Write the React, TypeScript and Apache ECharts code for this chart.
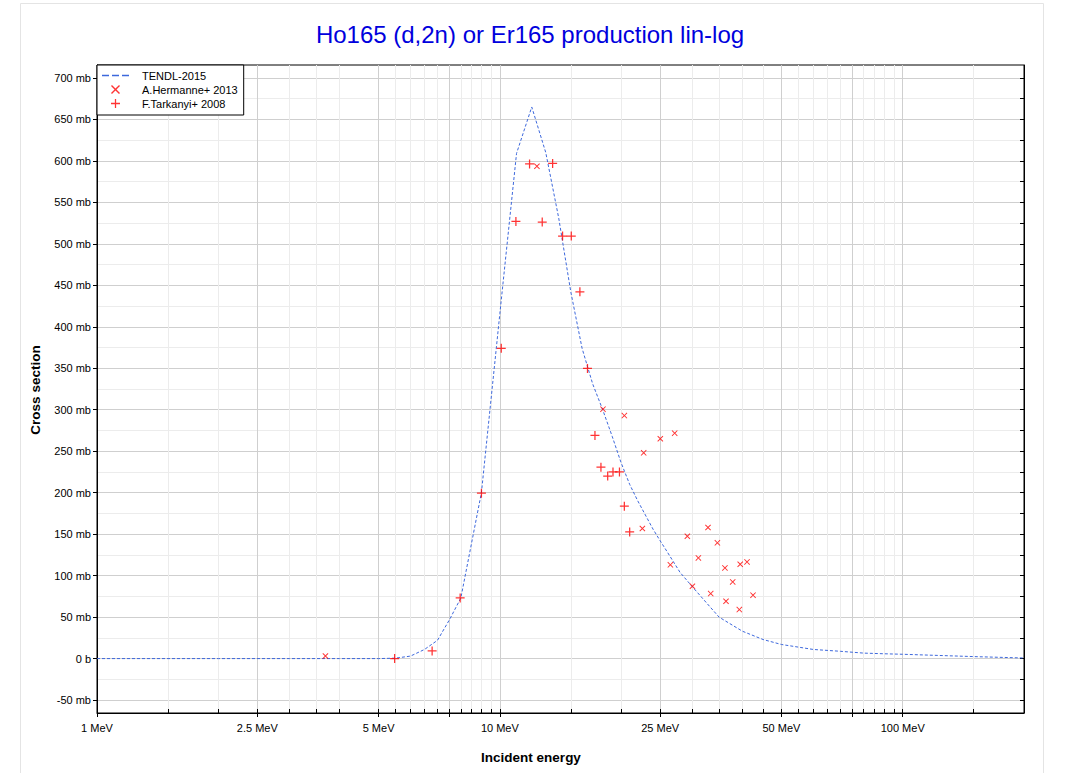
import React, { useEffect, useRef } from 'react';
import * as echarts from 'echarts';

const TITLE = 'Ho165 (d,2n) or Er165 production lin-log';
const X_NAME = 'Incident energy';
const Y_NAME = 'Cross section';
const LEGEND_NAMES = ['TENDL-2015', 'A.Hermanne+ 2013', 'F.Tarkanyi+ 2008'];

// TENDL-2015 evaluation (MeV, mb)
const TENDL_E = [1, 2, 3, 4, 5, 5.5, 6, 6.5, 7, 7.5, 8, 9, 10, 11, 12, 13, 14, 15, 16, 17, 18, 19, 20, 21, 22, 24, 25, 26, 28, 30, 35, 40, 45, 50, 60, 70, 80, 90, 100, 150, 200];
const TENDL_MB = [0, 0, 0, 0, 0, 0.5, 3, 11, 22, 47, 73, 200, 416, 609, 665, 610, 531, 442, 374, 331, 300, 268, 236, 210, 190, 156, 142, 129, 104, 87, 50, 33, 23, 17, 11, 8.8, 6.6, 5.8, 5.2, 2.4, 0.7];

// A.Hermanne+ 2013 (MeV, mb)
const HERM_E = [3.69, 12.36, 18.03, 20.37, 22.58, 22.75, 25.02, 26.5, 27.16, 29.2, 30.06, 31.1, 32.86, 33.37, 34.67, 36.2, 36.42, 37.84, 39.3, 39.5, 41.07, 42.5];
const HERM_MB = [3.1, 593.5, 300.7, 293, 156.8, 248, 265, 113, 271.8, 147.5, 87.2, 121.4, 158, 78.4, 139.5, 109.3, 69.1, 92.4, 59.1, 113.7, 116.5, 76.4];

// F.Tarkanyi+ 2008 (MeV, mb)
const TARK_E = [5.48, 6.79, 7.97, 9.0, 10.08, 10.96, 11.85, 12.74, 13.52, 14.31, 15.04, 15.8, 16.5, 17.22, 17.82, 18.52, 19.09, 19.81, 20.37, 21.0];
const TARK_MB = [0, 9.2, 73.1, 199.4, 374, 527, 596.3, 526.3, 597, 509.4, 509.4, 442.2, 349.8, 269, 230.8, 220, 225, 225, 183.7, 152.7];

// Axis ticks
const X_MIN = 1;
const X_MAX = 200;
const X_LABELS = [1, 2.5, 5, 10, 25, 50, 100];
const X_MAJOR = [1, 2.5, 5, 7.5, 10, 25, 50, 75, 100];
const X_TICKS = [1, 1.5, 2, 2.5, 3, 3.5, 4, 5, 5.5, 6, 6.5, 7, 7.5, 8, 8.5, 9, 9.5, 10, 15, 20, 25, 30, 35, 40, 45, 50, 55, 60, 65, 70, 75, 80, 85, 90, 95, 100, 150];
const Y_MIN = -65.6;
const Y_MAX = 715.6;
const Y_LABELS = [-50, 0, 50, 100, 150, 200, 250, 300, 350, 400, 450, 500, 550, 600, 650, 700];
const Y_TICKS = [-50, -25, 0, 25, 50, 75, 100, 125, 150, 175, 200, 225, 250, 275, 300, 325, 350, 375, 400, 425, 450, 475, 500, 525, 550, 575, 600, 625, 650, 675, 700];

const FONT = '"Liberation Sans", Arial, Helvetica, sans-serif';
const PLUS = 'path://M4.3,0H5.7V4.3H10V5.7H5.7V10H4.3V5.7H0V4.3H4.3Z';
const CROSS = 'path://M0,1.1L1.1,0L5,3.9L8.9,0L10,1.1L6.1,5L10,8.9L8.9,10L5,6.1L1.1,10L0,8.9L3.9,5Z';
const DASH = 'path://M0,0H7V1.5H0Z M10,0H17V1.5H10Z M20,0H27V1.5H20Z';

const zip = (xs: number[], ys: number[]) => xs.map((x, i) => [x, ys[i]]);

export default function App() {
  const ref = useRef<HTMLDivElement>(null);
  useEffect(() => {
    document.body.style.margin = '0';
    if (!ref.current) return;
    const chart = echarts.init(ref.current, undefined, { renderer: 'svg' });
    const axisText = { color: '#000', fontSize: 11, fontFamily: FONT };
    chart.setOption({
      animation: false,
      backgroundColor: '#fff',
      grid: { left: 97, top: 65, right: 45, bottom: 60, show: true, borderColor: '#000', borderWidth: 1, backgroundColor: 'transparent' },
      graphic: [
        { type: 'rect', shape: { x: 20.5, y: 3.5, width: 1023, height: 800 }, style: { fill: 'none', stroke: '#e4e4e4', lineWidth: 1 }, silent: true, z: -10 },
        { type: 'text', x: 530, y: 34, style: { text: TITLE, fill: '#0000dd', font: `24px ${FONT}`, align: 'center', verticalAlign: 'middle' } },
        { type: 'text', x: 531, y: 757, style: { text: X_NAME, fill: '#000', font: `bold 13.5px ${FONT}`, align: 'center', verticalAlign: 'middle' } },
        { type: 'text', x: 35, y: 390, rotation: Math.PI / 2, style: { text: Y_NAME, fill: '#000', font: `bold 13.5px ${FONT}`, align: 'center', verticalAlign: 'middle' } },
      ],
      legend: {
        left: 97, top: 65, orient: 'vertical',
        backgroundColor: '#fff', borderColor: '#000', borderWidth: 1, borderRadius: 0,
        padding: [5, 6, 6, 5], itemGap: 3, itemWidth: 27, itemHeight: 9,
        textStyle: { color: '#000', fontSize: 11, fontFamily: FONT, padding: [0, 0, 0, 8] },
        data: [
          { name: LEGEND_NAMES[0], icon: DASH },
          { name: LEGEND_NAMES[1], icon: CROSS },
          { name: LEGEND_NAMES[2], icon: PLUS },
        ],
      },
      xAxis: [
        {
          type: 'log', logBase: 10, min: X_MIN, max: X_MAX, position: 'bottom', gridIndex: 0,
          axisLine: { show: true, onZero: false, lineStyle: { color: '#000', width: 1 } },
          axisTick: { show: true, customValues: X_TICKS, inside: true, length: 4, lineStyle: { color: '#000' } },
          axisLabel: { show: false },
          splitLine: { show: true, lineStyle: { color: '#ececec', width: 1 } },
        },
        {
          type: 'log', logBase: 10, min: X_MIN, max: X_MAX, position: 'bottom', gridIndex: 0,
          axisLine: { show: false, onZero: false },
          axisTick: { show: true, customValues: X_MAJOR, inside: false, length: 4, lineStyle: { color: '#000' } },
          axisLabel: { show: true, customValues: X_LABELS, margin: 9, formatter: (v: number) => `${v} MeV`, ...axisText },
          splitLine: { show: true, lineStyle: { color: '#cfcfcf', width: 1 } },
        },
      ],
      yAxis: [
        {
          type: 'value', min: Y_MIN, max: Y_MAX, position: 'left',
          axisLine: { show: true, onZero: false, lineStyle: { color: '#000' } },
          axisTick: { show: true, customValues: Y_LABELS, inside: false, length: 4, lineStyle: { color: '#000' } },
          axisLabel: { show: true, customValues: Y_LABELS, margin: 6, formatter: (v: number) => (v === 0 ? '0 b' : `${v} mb`), ...axisText },
          splitLine: { show: false },
        },
        {
          type: 'value', min: Y_MIN, max: Y_MAX, position: 'right',
          axisLine: { show: true, onZero: false, lineStyle: { color: '#000' } },
          axisTick: { show: true, customValues: Y_TICKS, inside: true, length: 4, lineStyle: { color: '#000' } },
          axisLabel: { show: false },
          splitLine: { show: true, lineStyle: { color: ['#cfcfcf', '#ececec'], width: 1 } },
        },
      ],
      series: [
        {
          name: LEGEND_NAMES[0], type: 'line', xAxisIndex: 0, yAxisIndex: 0,
          data: zip(TENDL_E, TENDL_MB), showSymbol: false, symbol: 'none',
          lineStyle: { color: '#3d68dc', width: 1, type: [3, 2] }, itemStyle: { color: '#3d68dc' }, z: 3,
        },
        {
          name: LEGEND_NAMES[1], type: 'scatter', xAxisIndex: 0, yAxisIndex: 0,
          data: zip(HERM_E, HERM_MB), symbol: CROSS, symbolSize: 6,
          itemStyle: { color: '#ff0000' }, z: 4,
        },
        {
          name: LEGEND_NAMES[2], type: 'scatter', xAxisIndex: 0, yAxisIndex: 0,
          data: zip(TARK_E, TARK_MB), symbol: PLUS, symbolSize: 9,
          itemStyle: { color: '#ff0000' }, z: 4,
        },
      ],
    });
    return () => chart.dispose();
  }, []);
  return <div ref={ref} style={{ width: 1069, height: 773 }} />;
}
